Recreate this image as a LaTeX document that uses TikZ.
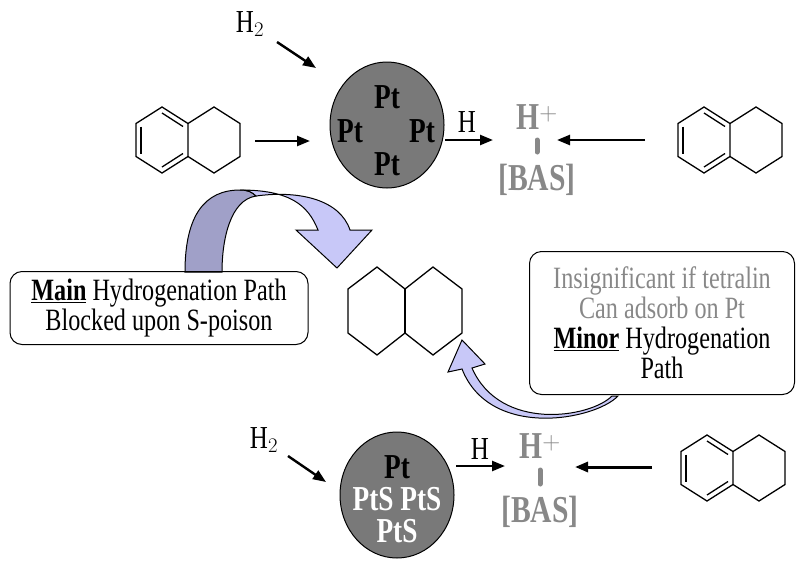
\documentclass[tikz,border=0pt]{standalone}
\usepackage{fontspec}
\setmainfont[FakeStretch=0.78]{Liberation Serif}
\usetikzlibrary{shapes.geometric,arrows.meta}
\definecolor{gr}{HTML}{888888}
\definecolor{lavL}{HTML}{C8C8F8}
\definecolor{lavD}{HTML}{A0A0C8}
\tikzset{
 arr/.style={line width=2.4pt,-{Triangle[length=13pt,width=10pt]}},
 cat/.style={ellipse,draw,line width=1pt,fill=gray!95!black,minimum width=114pt,minimum height=126pt},
 pt/.style={font=\fontsize{35}{35}\selectfont\bfseries},
 gtxt/.style={text=gr,font=\fontsize{38}{38}\selectfont\bfseries},
 box/.style={draw,line width=1pt,rounded corners=12pt,align=center,font=\fontsize{31}{30}\selectfont},
 lbl/.style={font=\fontsize{32}{32}\selectfont},
 bond/.style={line width=1.3pt}
}
\newcommand{\tetra}[4]{% x, y, halfwidth, radius ; aromatic left ring
 \begin{scope}[shift={(#1,#2)}]
 \draw[bond] (0,-#4) -- (#3,-#4/2) -- (#3,#4/2) -- (0,#4) -- (-#3,#4/2) -- (-#3,-#4/2) -- cycle;
 \draw[bond] (#3,-#4/2) -- (2*#3,-#4) -- (3*#3,-#4/2) -- (3*#3,#4/2) -- (2*#3,#4) -- (#3,#4/2);
 \draw[bond] (-#3+5,-#4/2+3) -- (-#3+5,#4/2-3);
 \draw[bond] (0,-#4+6) -- (#3-5,-#4/2+3);
 \draw[bond] (0,#4-6) -- (#3-5,#4/2-3);
 \end{scope}}
\begin{document}
\begin{tikzpicture}[x=1pt,y=-1pt]
\useasboundingbox (0,0) rectangle (808,560);
% top
\tetra{162}{140}{26}{33}
\tetra{704}{140}{26}{33}
\node[cat] (c1) at (387,125) {};
\node[pt] at (387,97) {Pt};
\node[pt] at (350,131) {Pt};
\node[pt] at (422,131) {Pt};
\node[pt] at (387,164) {Pt};
\coordinate (a1) at (255,141); \coordinate (a2) at (310,141);
\draw[arr] (a1) -- (a2);
\node[lbl] (h2a) at (250,24) {H$_2$};
\coordinate (b1) at (277,42); \coordinate (b2) at (316,68);
\draw[arr] (b1) -- (b2);
\coordinate (d1) at (445,140); \coordinate (d2) at (493,140);
\draw[arr] (d1) -- (d2);
\node[lbl] (ha) at (467,122) {H};
\node[gtxt] (hp1) at (537,117) {H$^{\mathbf{+}}$};
\draw[gr,line width=5pt,line cap=round] (537,140) -- (537,152);
\node[gtxt] (bas1) at (537,180) {[BAS]};
\coordinate (e1) at (645,140); \coordinate (e2) at (557,140);
\draw[arr] (e1) -- (e2);
% big curved arrow
\fill[lavD,draw=black,line width=1pt] (185,272) .. controls (185,215) and (205,190) .. (240,190) .. controls (248,190) and (252,192) .. (256,196) .. controls (230,200) and (222,240) .. (222,272) -- cycle;
\fill[lavL,draw=black,line width=1pt] (240,190) .. controls (290,190) and (308,205) .. (318,230) -- (296,230) -- (337,268) -- (372,230) -- (350,230) .. controls (340,200) and (300,190) .. (256,196) .. controls (252,192) and (248,190) .. (240,190);
% decalin
\begin{scope}[shift={(405,311)}]
\draw[bond] (-57,-22) -- (-28,-44) -- (0,-22) -- (28,-44) -- (57,-22) -- (57,22) -- (28,44) -- (0,22) -- (-28,44) -- (-57,22) -- cycle;
\draw[bond] (0,-22) -- (0,22);
\end{scope}
\node[box,minimum width=298pt,minimum height=73pt] (mb) at (159,308) {\underline{\textbf{Main}} Hydrogenation Path\\Blocked upon S-poison};
\node[box,minimum width=265pt,minimum height=143pt] (rb) at (662,323) {\textcolor{gr}{Insignificant if tetralin}\\\textcolor{gr}{Can adsorb on Pt}\\\underline{\textbf{Minor}} Hydrogenation\\Path};
% small curved arrow
\fill[lavL,draw=black,line width=1pt] (612,396) .. controls (590,418) and (500,432) .. (472,368) -- (485,364) -- (462,340) -- (448,372) -- (462,369) .. controls (490,440) and (595,420) .. (618,396) -- cycle;
% bottom
\tetra{707}{468}{26}{33}
\node[cat] (c2) at (397,495) {};
\node[pt] at (397,467) {Pt};
\node[pt,text=white] at (397,499) {PtS PtS};
\node[pt,text=white] at (397,531) {PtS};
\node[lbl] (h2b) at (264,440) {H$_2$};
\coordinate (f1) at (288,456); \coordinate (f2) at (326,482);
\draw[arr] (f1) -- (f2);
\coordinate (g1) at (456,466); \coordinate (g2) at (505,466);
\draw[arr] (g1) -- (g2);
\node[lbl] (hb) at (480,449) {H};
\node[gtxt] (hp2) at (540,446) {H$^{\mathbf{+}}$};
\draw[gr,line width=5pt,line cap=round] (540,470) -- (540,484);
\node[gtxt] (bas2) at (540,512) {[BAS]};
\coordinate (k1) at (652,467); \coordinate (k2) at (575,467);
\draw[arr,line width=3pt] (k1) -- (k2);
\end{tikzpicture}
\end{document}
